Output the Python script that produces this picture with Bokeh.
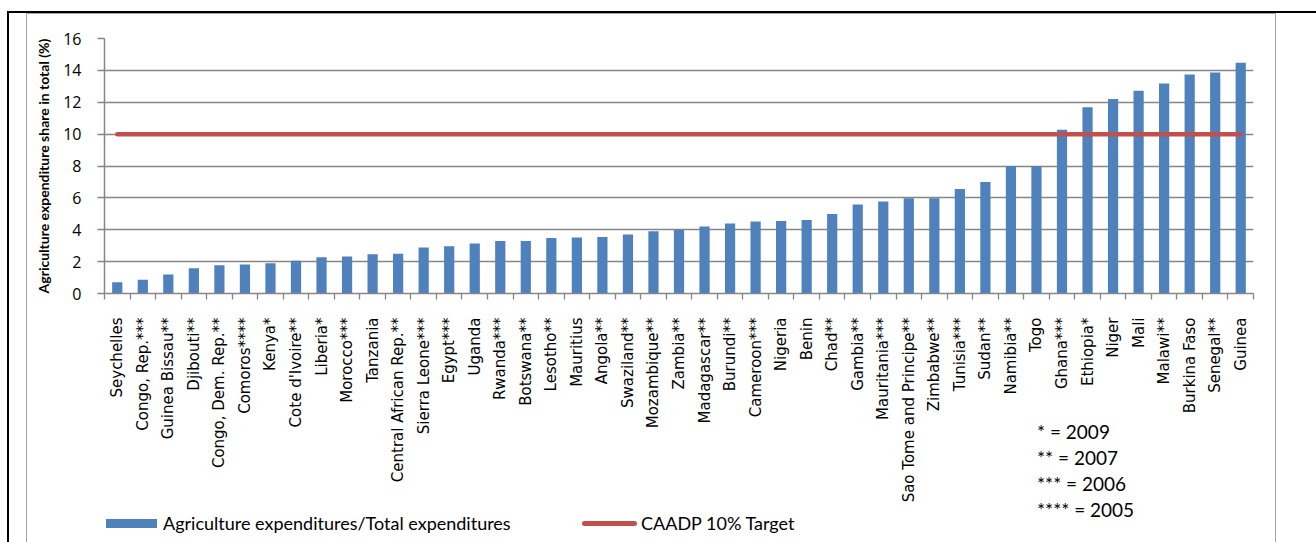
from bokeh.plotting import figure
from bokeh.models import (Range1d, FixedTicker, Div, GridBox)
from bokeh.models import ColumnDataSource
from bokeh.embed import file_html
from bokeh.resources import INLINE
import math

countries = ["Seychelles", "Congo, Rep.***", "Guinea Bissau**", "Djibouti**",
             "Congo, Dem. Rep.**", "Comoros****", "Kenya*", "Cote d'Ivoire**",
             "Liberia*", "Morocco***", "Tanzania", "Central African Rep.**",
             "Sierra Leone***", "Egypt***", "Uganda", "Rwanda***", "Botswana**",
             "Lesotho**", "Mauritius", "Angola**", "Swaziland**", "Mozambique**",
             "Zambia**", "Madagascar**", "Burundi**", "Cameroon***", "Nigeria",
             "Benin", "Chad**", "Gambia**", "Mauritania***",
             "Sao Tome and Principe**", "Zimbabwe**", "Tunisia***", "Sudan**",
             "Namibia**", "Togo", "Ghana***", "Ethiopia*", "Niger", "Mali",
             "Malawi**", "Burkina Faso", "Senegal**", "Guinea"]
share = [0.71, 0.86, 1.19, 1.59, 1.78, 1.82, 1.90, 2.05, 2.28, 2.32, 2.47, 2.49,
         2.89, 2.96, 3.13, 3.30, 3.30, 3.49, 3.51, 3.55, 3.70, 3.90, 3.99, 4.20,
         4.39, 4.51, 4.55, 4.61, 4.99, 5.58, 5.77, 5.98, 5.98, 6.56, 7.00, 8.00,
         8.00, 10.28, 11.68, 12.20, 12.72, 13.18, 13.74, 13.87, 14.48]
target = [10] * len(countries)
y_ticks = [0, 2, 4, 6, 8, 10, 12, 14, 16]
footnotes = ["* = 2009", "** = 2007", "*** = 2006", "**** = 2005"]
series_names = ["Agriculture expenditures/Total expenditures", "CAADP 10% Target"]
BAR_COLOR = "#4F81BD"
LINE_COLOR = "#C0504D"

W, H = 1316, 542
n = len(countries)
xs = [i + 0.5 for i in range(n)]
src = ColumnDataSource(dict(x=xs, share=share, target=target, country=countries))

GRAY = "#868686"
p = figure(width=W, height=H, output_backend="svg", toolbar_location=None,
           x_range=Range1d(0, n), y_range=Range1d(0, 16),
           min_border_left=104, min_border_right=63, min_border_top=38,
           min_border_bottom=249)
p.outline_line_color = None
p.background_fill_color = "white"
p.border_fill_color = "white"

bars = p.vbar(x="x", top="share", width=0.4, source=src, fill_color=BAR_COLOR,
              line_color=None)
tline = p.line(x="x", y="target", source=src, line_color=LINE_COLOR, line_width=4.5,
               line_cap="round")

# x axis (category labels, boundary ticks)
xa = p.xaxis[0]
xa.ticker = FixedTicker(ticks=xs, minor_ticks=list(range(n + 1)))
xa.major_label_overrides = {x: c for x, c in zip(xs, countries)}
xa.major_label_orientation = math.pi / 2
xa.major_tick_line_color = None
xa.minor_tick_line_color = GRAY
xa.minor_tick_line_width = 1.3
xa.minor_tick_out = 6
xa.minor_tick_in = 0
xa.axis_line_color = GRAY
xa.axis_line_width = 1.5
xa.major_label_standoff = 18
xa.major_label_text_font = "DejaVu Sans"
xa.major_label_text_font_size = "15px"
xa.major_label_text_color = "black"

# y axis
ya = p.yaxis[0]
ya.ticker = FixedTicker(ticks=y_ticks)
ya.minor_tick_line_color = None
ya.major_tick_line_color = GRAY
ya.major_tick_line_width = 1.3
ya.major_tick_out = 7
ya.major_tick_in = 0
ya.axis_line_color = GRAY
ya.axis_line_width = 1.5
ya.major_label_standoff = 16
ya.major_label_text_font = "Open Sans"
ya.major_label_text_font_size = "16px"
ya.major_label_text_color = "black"
ya.axis_label = "Agriculture expenditure share in total (%)"
ya.axis_label_text_font = "Lato"
ya.axis_label_text_font_style = "bold"
ya.axis_label_text_font_size = "14px"
ya.axis_label_text_color = "black"
ya.axis_label_standoff = 8

p.xgrid.grid_line_color = None
p.ygrid.ticker = FixedTicker(ticks=y_ticks)
p.ygrid.grid_line_color = GRAY
p.ygrid.grid_line_width = 1.3

# transparent sheet over the chart: outer frame lines, key and year footnotes
notes_html = "<br>".join(footnotes)
txt = "font-family:Lato;font-size:18px;line-height:22px;color:#000;white-space:nowrap;"
sheet = Div(width=W, height=H, text=(
    '<div style="position:relative;width:%dpx;height:%dpx;pointer-events:none;">'
    '<div style="position:absolute;left:2px;top:6px;width:1320px;height:540px;'
    'border-top:2px solid #000;border-left:2px solid #000;box-sizing:border-box;"></div>'
    '<div style="position:absolute;left:21px;top:8px;width:1250px;height:540px;'
    'border:1.5px solid #A6A6A6;border-bottom:none;box-sizing:border-box;"></div>'
    '<div style="position:absolute;left:101px;top:514px;width:51px;height:9px;'
    'background:%s;"></div>'
    '<div style="position:absolute;left:158px;top:507px;%s">%s</div>'
    '<div style="position:absolute;left:577px;top:516px;width:55px;height:5px;'
    'border-radius:2.5px;background:%s;"></div>'
    '<div style="position:absolute;left:636px;top:507px;%s">%s</div>'
    '<div style="position:absolute;left:1032px;top:414px;font-family:Lato;'
    'font-size:19px;line-height:26px;color:#000;white-space:nowrap;">%s</div>'
    '</div>') % (W, H, BAR_COLOR, txt, series_names[0], LINE_COLOR, txt,
                 series_names[1], notes_html))

layout = GridBox(children=[(p, 0, 0), (sheet, 0, 0)])
open("out.html", "w").write(file_html(layout, INLINE))
